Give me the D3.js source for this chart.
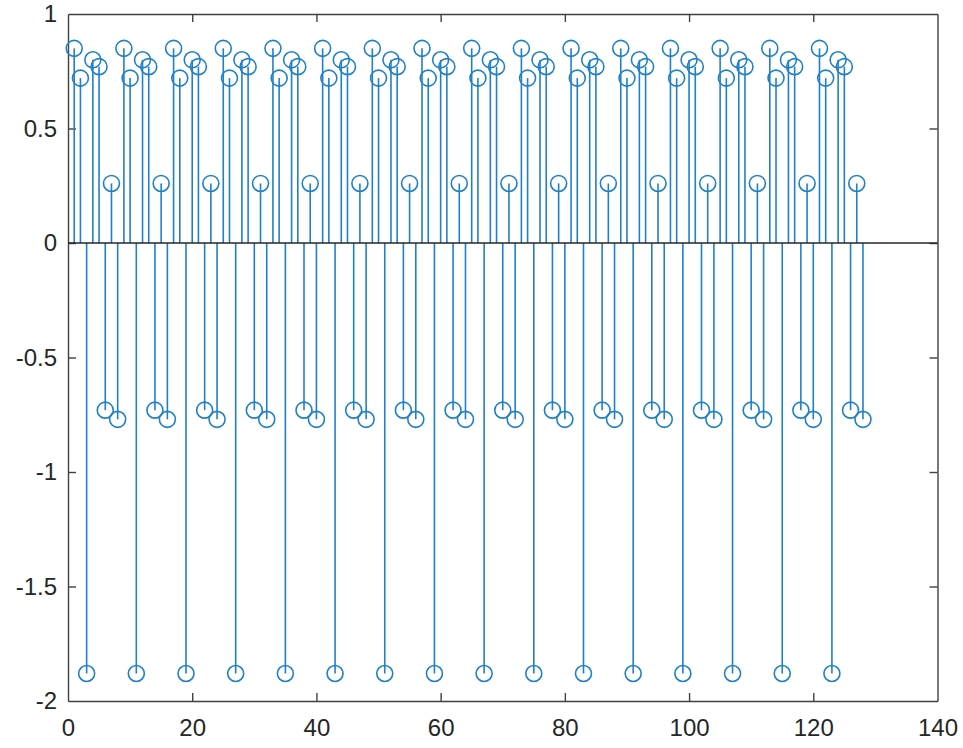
<!DOCTYPE html>
<html>
<head>
<meta charset="utf-8">
<script src="https://cdn.jsdelivr.net/npm/d3@7"></script>
<style>
  html, body { margin: 0; padding: 0; background: #fff; }
  svg { display: block; }
  text { font-family: "Liberation Sans", Arial, Helvetica, sans-serif; fill: #262626; }
</style>
</head>
<body>
<svg id="chart" width="963" height="748"></svg>
<script>
// Data: 128 samples, x = 1..128
const periodValues = [0.85, 0.72, -1.88, 0.80, 0.77, -0.73, 0.26, -0.77];
const sampleValues = [
  0.85, 0.72, -1.88, 0.80, 0.77, -0.73, 0.26, -0.77,
  0.85, 0.72, -1.88, 0.80, 0.77, -0.73, 0.26, -0.77,
  0.85, 0.72, -1.88, 0.80, 0.77, -0.73, 0.26, -0.77,
  0.85, 0.72, -1.88, 0.80, 0.77, -0.73, 0.26, -0.77,
  0.85, 0.72, -1.88, 0.80, 0.77, -0.73, 0.26, -0.77,
  0.85, 0.72, -1.88, 0.80, 0.77, -0.73, 0.26, -0.77,
  0.85, 0.72, -1.88, 0.80, 0.77, -0.73, 0.26, -0.77,
  0.85, 0.72, -1.88, 0.80, 0.77, -0.73, 0.26, -0.77,
  0.85, 0.72, -1.88, 0.80, 0.77, -0.73, 0.26, -0.77,
  0.85, 0.72, -1.88, 0.80, 0.77, -0.73, 0.26, -0.77,
  0.85, 0.72, -1.88, 0.80, 0.77, -0.73, 0.26, -0.77,
  0.85, 0.72, -1.88, 0.80, 0.77, -0.73, 0.26, -0.77,
  0.85, 0.72, -1.88, 0.80, 0.77, -0.73, 0.26, -0.77,
  0.85, 0.72, -1.88, 0.80, 0.77, -0.73, 0.26, -0.77,
  0.85, 0.72, -1.88, 0.80, 0.77, -0.73, 0.26, -0.77,
  0.85, 0.72, -1.88, 0.80, 0.77, -0.73, 0.26, -0.77
];
const sampleIndex = sampleValues.map((v, i) => i + 1);
const xTicks = [0, 20, 40, 60, 80, 100, 120, 140];
const yTicks = [-2, -1.5, -1, -0.5, 0, 0.5, 1];
const xTickLabels = ["0", "20", "40", "60", "80", "100", "120", "140"];
const yTickLabels = ["-2", "-1.5", "-1", "-0.5", "0", "0.5", "1"];

const svg = d3.select("#chart");
const L = 68, R = 937.5, T = 14, B = 701;
const x = d3.scaleLinear().domain([0, 140]).range([L, R]);
const y = d3.scaleLinear().domain([-2, 1]).range([B, T]);

const axisColor = "#404040";
const blue = "#1f80c8";
const tickLen = 8;

// Axes with ticks inside
const gx = svg.append("g").attr("transform", `translate(0,${B})`)
  .call(d3.axisBottom(x).tickValues(xTicks).tickSizeInner(-tickLen).tickSizeOuter(0)
        .tickFormat((d, i) => xTickLabels[i]).tickPadding(18));
const gxTop = svg.append("g").attr("transform", `translate(0,${T})`)
  .call(d3.axisTop(x).tickValues(xTicks).tickSizeInner(-tickLen).tickSizeOuter(0).tickFormat(""));
const gy = svg.append("g").attr("transform", `translate(${L},0)`)
  .call(d3.axisLeft(y).tickValues(yTicks).tickSizeInner(-tickLen).tickSizeOuter(0)
        .tickFormat((d, i) => yTickLabels[i]).tickPadding(11));
const gyR = svg.append("g").attr("transform", `translate(${R},0)`)
  .call(d3.axisRight(y).tickValues(yTicks).tickSizeInner(-tickLen).tickSizeOuter(0).tickFormat(""));

[gx, gxTop, gy, gyR].forEach(g => {
  g.select(".domain").attr("stroke", axisColor).attr("stroke-width", 1.4);
  g.selectAll(".tick line").attr("stroke", axisColor).attr("stroke-width", 1.4);
  g.selectAll(".tick text").attr("font-size", 24).attr("fill", "#333333")
    .attr("font-family", '"Liberation Sans", Arial, Helvetica, sans-serif');
});
gx.selectAll(".tick text").attr("dy", "0.71em");
// hide end ticks overlapping box corners
[gx, gxTop].forEach(g => g.selectAll(".tick line").filter(d => d === 0 || d === 140).remove());
[gy, gyR].forEach(g => g.selectAll(".tick line").filter(d => d === -2 || d === 1).remove());

const data = sampleIndex.map((k, i) => ({ k, v: sampleValues[i] }));

// Stems
svg.append("g").selectAll("line").data(data).enter().append("line")
  .attr("x1", d => x(d.k)).attr("x2", d => x(d.k))
  .attr("y1", y(0)).attr("y2", d => y(d.v))
  .attr("stroke", blue).attr("stroke-width", 1.6);

// Baseline
svg.append("line").attr("x1", L).attr("x2", R).attr("y1", y(0)).attr("y2", y(0))
  .attr("stroke", "#262626").attr("stroke-width", 1.4);

// Markers
svg.append("g").selectAll("circle").data(data).enter().append("circle")
  .attr("cx", d => x(d.k)).attr("cy", d => y(d.v)).attr("r", 8)
  .attr("fill", "none").attr("stroke", blue).attr("stroke-width", 1.6);
</script>
</body>
</html>
